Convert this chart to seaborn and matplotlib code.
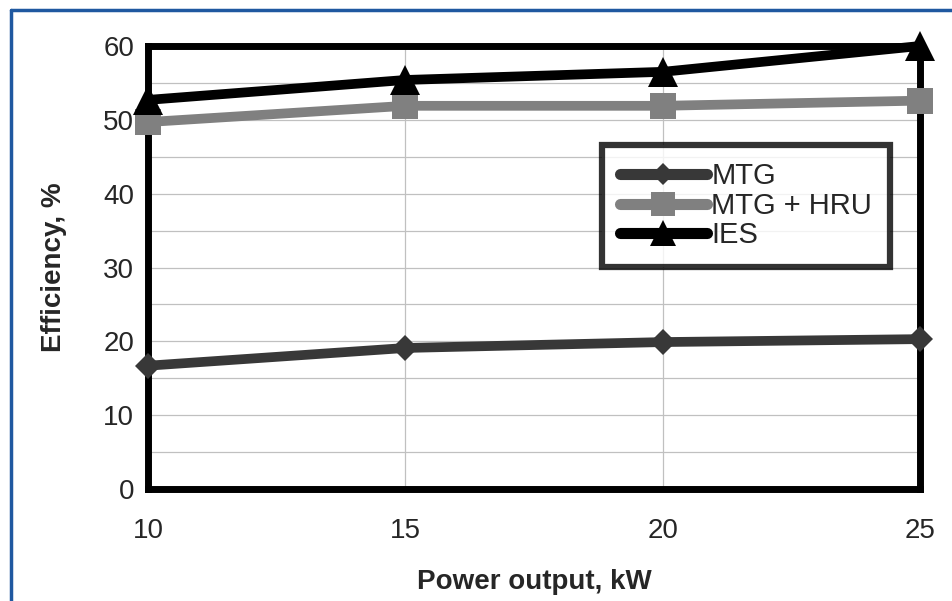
import matplotlib
matplotlib.use("Agg")
import matplotlib.pyplot as plt
import seaborn as sns
import pandas as pd
from matplotlib.lines import Line2D
from matplotlib.ticker import MultipleLocator

power = [10, 15, 20, 25]
mtg = [16.7, 19.1, 19.9, 20.3]
mtg_hru = [49.7, 51.9, 51.9, 52.6]
ies = [52.7, 55.4, 56.5, 60.0]
series_names = ["MTG", "MTG + HRU", "IES"]

rows = []
for name, vals in zip(series_names, [mtg, mtg_hru, ies]):
    for p, v in zip(power, vals):
        rows.append({"Power": p, "Efficiency": v, "Series": name})
df = pd.DataFrame(rows)

sns.set_style("white")
plt.rcParams["font.family"] = ["Liberation Sans", "DejaVu Sans"]

fig = plt.figure(figsize=(9.52, 6.01), dpi=100)
ax = fig.add_axes([148/952, 1-489/601, (920-148)/952, (489-46)/601])

colors = {"MTG": "#383838", "MTG + HRU": "#808080", "IES": "#000000"}
markers = {"MTG": "D", "MTG + HRU": "s", "IES": "^"}
sizes_m = {"MTG": 13, "MTG + HRU": 19, "IES": 21}

sns.lineplot(data=df, x="Power", y="Efficiency", hue="Series", style="Series",
             palette=colors, markers=markers, dashes=False, linewidth=7,
             markersize=14, markeredgewidth=0, legend=False, ax=ax, zorder=5)
for line, name in zip(ax.lines, series_names):
    line.set_markersize(sizes_m[name])
    line.set_clip_on(False)

ax.set_xlim(10, 25)
ax.set_ylim(0, 60)
ax.set_xticks(power)
ax.yaxis.set_major_locator(MultipleLocator(10))
ax.yaxis.set_minor_locator(MultipleLocator(5))
ax.grid(True, which="both", axis="y", color="#c0c0c0", linewidth=0.9)
ax.grid(True, which="major", axis="x", color="#c0c0c0", linewidth=0.9)
ax.set_axisbelow(True)
for s in ax.spines.values():
    s.set_linewidth(5)
    s.set_color("black")
ax.tick_params(axis="both", which="major", direction="out", length=7, width=4,
               labelsize=20, color="black", pad=3)
ax.tick_params(axis="y", which="minor", direction="out", length=6, width=3.5)
ax.tick_params(axis="x", pad=14)

ax.set_xlabel("Power output, kW", fontsize=20, fontweight="bold", labelpad=18)
ax.set_ylabel("Efficiency, %", fontsize=20, fontweight="bold", labelpad=26)

handles = [Line2D([0], [0], color=colors[n], marker=markers[n], lw=8,
                  markersize=sizes_m[n] - 2, markeredgewidth=0) for n in series_names]
leg = ax.legend(handles, series_names, loc="upper left",
                bbox_to_anchor=((602-148)/772, 1-(145-46)/443),
                fontsize=21, frameon=True, fancybox=False, handlelength=3.0,
                handletextpad=0.15, labelspacing=0.05, borderpad=0.6,
                borderaxespad=0)
leg.get_frame().set_edgecolor("black")
leg.get_frame().set_linewidth(4.5)
leg.set_zorder(10)

# blue figure border (top and left visible)
fig.add_artist(Line2D([11/952, 11/952], [0, 1-10/601], color="#1f58a0", lw=2.5,
                      transform=fig.transFigure))
fig.add_artist(Line2D([11/952, 1], [1-10/601, 1-10/601], color="#1f58a0", lw=2.5,
                      transform=fig.transFigure))

fig.savefig("out.png", dpi=100)
